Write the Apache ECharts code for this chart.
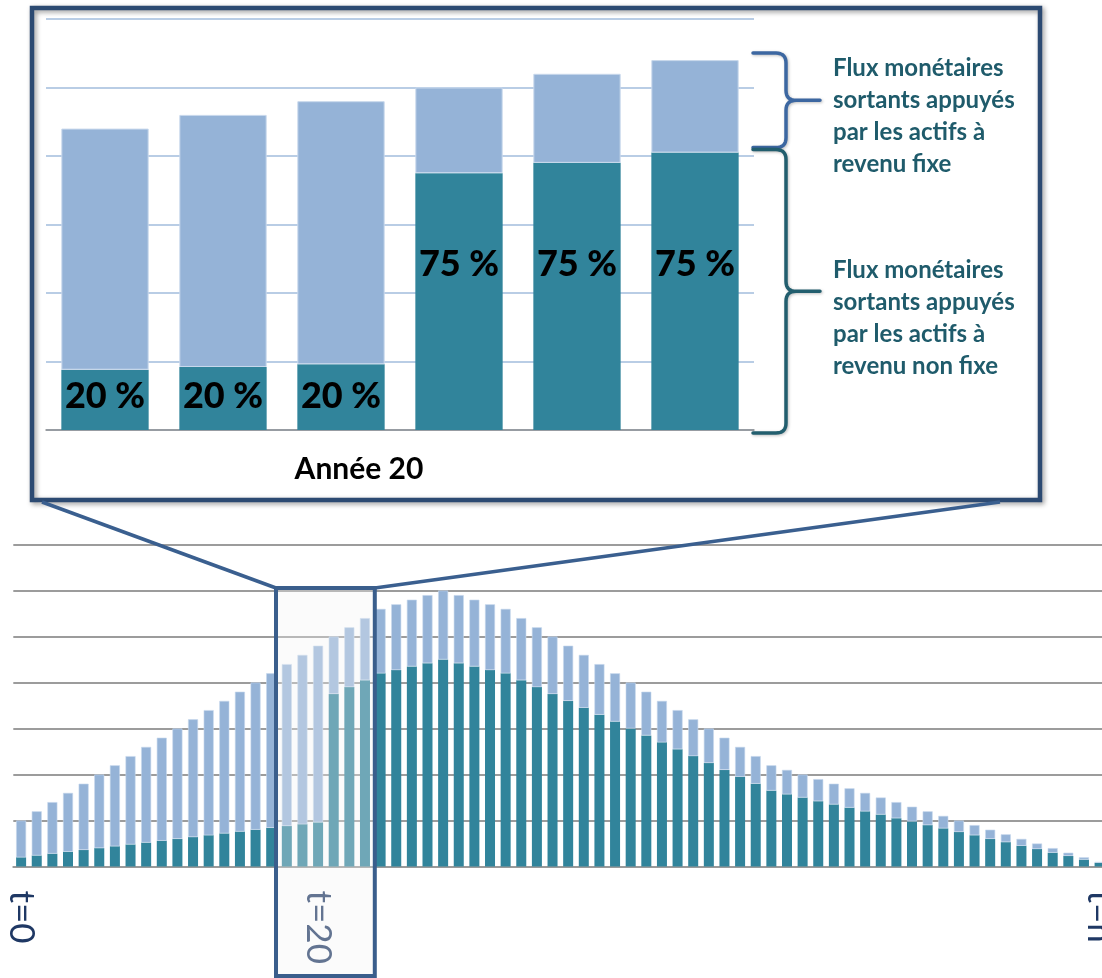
<!DOCTYPE html>
<html>
<head>
<meta charset="utf-8">
<script src="https://cdn.jsdelivr.net/npm/echarts@6/dist/echarts.min.js"></script>
<style>
  html, body { margin: 0; padding: 0; background: #ffffff; }
  #chart { width: 1102px; height: 978px; }
</style>
</head>
<body>
<div id="chart"></div>
<script>
// Total outgoing cash flows per period, t=0 ... t=n
const totals = [10, 12, 14, 16, 18, 20, 22, 24, 26, 28, 30, 32, 34, 36, 38, 40, 42, 44, 46, 48,
  50, 52, 54, 56, 57, 58, 59, 60, 59, 58, 57, 56, 54, 52, 50, 48, 46, 44, 42, 40,
  38, 36, 34, 32, 30, 28, 26, 24, 22, 21, 20, 19, 18, 17, 16, 15, 14, 13, 12, 11,
  10, 9, 8, 7, 6, 5, 4, 3, 2, 1];

// Part of each period's outflow backed by non-fixed-income assets
const nonFixed = [2.0, 2.4, 2.8, 3.2, 3.6, 4.0, 4.4, 4.8, 5.2, 5.6, 6.0, 6.4, 6.8, 7.2, 7.6, 8.0, 8.4, 8.8, 9.2, 9.6,
  37.5, 39.0, 40.5, 42.0, 42.7, 43.5, 44.2, 45.0, 44.2, 43.5, 42.7, 42.0, 40.5, 39.0, 37.5, 36.0, 34.5, 33.0, 31.5, 30.0,
  28.5, 27.0, 25.5, 24.0, 22.5, 21.0, 19.5, 18.0, 16.5, 15.7, 15.0, 14.2, 13.5, 12.8, 12.0, 11.3, 10.5, 9.8, 9.0, 8.3,
  7.5, 6.8, 6.0, 5.3, 4.5, 3.8, 3.0, 2.3, 1.5, 0.8];

// Period tick labels
const labelledPeriods = [0, 19, 69];
const periodTexts = ['t=0', 't=20', 't=n'];

// Detail panel: the six periods around year 20
const zoomFirst = 17;
const yearShares = [20, 20, 20, 75, 75, 75];
const yearLabels = ['', '', 'Année 20', '', '', ''];

const fixedText = 'Flux monétaires\nsortants appuyés\npar les actifs à\nrevenu fixe';
const nonFixedText = 'Flux monétaires\nsortants appuyés\npar les actifs à\nrevenu non fixe';

const LIGHT = '#95B3D7';
const DARK = '#31849B';

const periodNames = totals.map((_, i) => {
  const k = labelledPeriods.indexOf(i);
  return k >= 0 ? periodTexts[k] : '';
});
const fixedPart = totals.map((t, i) => +(t - nonFixed[i]).toFixed(2));

const yearTotals = totals.slice(zoomFirst, zoomFirst + yearShares.length);
const yearNonFixed = yearTotals.map((t, i) => t * yearShares[i] / 100);
const yearFixed = yearTotals.map((t, i) => t - yearNonFixed[i]);

const chart = echarts.init(document.getElementById('chart'), null, { renderer: 'canvas' });

chart.setOption({
  animation: false,
  backgroundColor: '#ffffff',
  grid: [
    { left: 46, top: 19, width: 708, height: 411, containLabel: false, outerBoundsMode: 'none' },
    { left: 13.3, top: 544.5, width: 1094.1, height: 322, containLabel: false, outerBoundsMode: 'none' }
  ],
  xAxis: [
    {
      gridIndex: 0, type: 'category', data: yearLabels,
      axisLine: { lineStyle: { color: '#8c8c8c', width: 1.5 } },
      axisTick: { interval: 0, length: 12, lineStyle: { color: '#8c8c8c', width: 1.5 } },
      axisLabel: {
        interval: 0, margin: 24, color: '#000000',
        fontFamily: 'Lato, "Open Sans", sans-serif', fontWeight: 'bold', fontSize: 30,
        padding: [0, 0, 0, 36]
      },
      splitLine: { show: false }
    },
    {
      gridIndex: 1, type: 'category', data: periodNames,
      axisLine: { lineStyle: { color: '#9a9a9a', width: 2 } },
      axisTick: { interval: 0, length: 11, lineStyle: { color: '#8c8c8c', width: 1.5 } },
      axisLabel: {
        interval: 0, rotate: -90, margin: 24, color: '#1F3864',
        fontFamily: 'Lato, "Open Sans", sans-serif', fontWeight: 'normal', fontSize: 35
      },
      splitLine: { show: false }
    }
  ],
  yAxis: [
    {
      gridIndex: 0, type: 'value', min: 0, max: 60, interval: 10,
      axisLine: { show: false }, axisTick: { show: false }, axisLabel: { show: false },
      splitLine: { lineStyle: { color: '#B9CDE5', width: 2 } }
    },
    {
      gridIndex: 1, type: 'value', min: 0, max: 70, interval: 10,
      axisLine: { show: false }, axisTick: { show: false }, axisLabel: { show: false },
      splitLine: { lineStyle: { color: '#9c9c9c', width: 2 } }
    }
  ],
  series: [
    {
      name: 'nonFixedYear', type: 'bar', xAxisIndex: 0, yAxisIndex: 0, stack: 'year',
      barCategoryGap: '26%',
      itemStyle: { color: DARK },
      data: yearNonFixed.map((v, i) => ({
        value: v,
        label: { distance: yearShares[i] >= 50 ? 148 : 16 }
      })),
      label: {
        show: true, position: 'insideBottom', color: '#000000',
        fontFamily: 'Lato, "Open Sans", sans-serif', fontWeight: 900, fontSize: 36,
        formatter: p => yearShares[p.dataIndex] + ' %'
      }
    },
    {
      name: 'fixedYear', type: 'bar', xAxisIndex: 0, yAxisIndex: 0, stack: 'year',
      barCategoryGap: '26%',
      itemStyle: { color: LIGHT, borderColor: '#c8d8ec', borderWidth: 1 },
      data: yearFixed
    },
    {
      name: 'nonFixed', type: 'bar', xAxisIndex: 1, yAxisIndex: 1, stack: 'all',
      barCategoryGap: '36%',
      itemStyle: { color: DARK },
      data: nonFixed
    },
    {
      name: 'fixed', type: 'bar', xAxisIndex: 1, yAxisIndex: 1, stack: 'all',
      barCategoryGap: '36%',
      itemStyle: { color: LIGHT, borderColor: '#c8d8ec', borderWidth: 0.6 },
      data: fixedPart
    }
  ]
});

// Annotation layer: detail frame, zoom window, connectors and braces
const cx = i => chart.convertToPixel({ xAxisIndex: 1 }, i);
const band = cx(1) - cx(0);
const zoomLeft = cx(zoomFirst) - band / 2 - 3;
const zoomRight = cx(zoomFirst + yearShares.length - 1) + band / 2 + 2;
const zoomTop = 588;
const zoomBottom = 976;

const last = yearShares.length - 1;
const yTop = chart.convertToPixel({ yAxisIndex: 0 }, yearTotals[last]);
const yMid = chart.convertToPixel({ yAxisIndex: 0 }, yearNonFixed[last]);
const yBase = chart.convertToPixel({ yAxisIndex: 0 }, 0);
const xEnd = chart.convertToPixel({ xAxisIndex: 0 }, last) + (chart.convertToPixel({ xAxisIndex: 0 }, 1) - chart.convertToPixel({ xAxisIndex: 0 }, 0)) / 2;

function quad(out, p0, c, p1, n) {
  for (let i = 1; i <= n; i++) {
    const t = i / n, u = 1 - t;
    out.push([u * u * p0[0] + 2 * u * t * c[0] + t * t * p1[0], u * u * p0[1] + 2 * u * t * c[1] + t * t * p1[1]]);
  }
}
function bracePoints(x0, xv, xt, y0, y1, r) {
  const ym = (y0 + y1) / 2;
  const pts = [[x0, y0], [xv - r, y0]];
  quad(pts, [xv - r, y0], [xv, y0], [xv, y0 + r], 8);
  pts.push([xv, ym - r]);
  quad(pts, [xv, ym - r], [xv, ym], [xv + r, ym], 8);
  pts.push([xt, ym], [xv + r, ym]);
  quad(pts, [xv + r, ym], [xv, ym], [xv, ym + r], 8);
  pts.push([xv, y1 - r]);
  quad(pts, [xv, y1 - r], [xv, y1], [xv - r, y1], 8);
  pts.push([x0, y1]);
  return pts;
}

const braceX0 = xEnd - 1, braceXv = xEnd + 32, braceXt = xEnd + 66;

chart.setOption({
  graphic: [
    {
      type: 'rect', z: 10, silent: true,
      shape: { x: 32, y: 8, width: 1008, height: 492 },
      style: { fill: null, stroke: '#2C4A72', lineWidth: 4.5,
        shadowBlur: 5, shadowColor: 'rgba(0,0,0,0.4)', shadowOffsetX: 2, shadowOffsetY: 2 }
    },
    {
      type: 'line', z: 10, silent: true,
      shape: { x1: 42, y1: 502, x2: zoomLeft, y2: zoomTop },
      style: { stroke: '#3A5F8F', lineWidth: 3.5 }
    },
    {
      type: 'line', z: 10, silent: true,
      shape: { x1: 1000, y1: 502, x2: zoomRight, y2: zoomTop },
      style: { stroke: '#3A5F8F', lineWidth: 3.5 }
    },
    {
      type: 'rect', z: 11, silent: true,
      shape: { x: zoomLeft, y: zoomTop, width: zoomRight - zoomLeft, height: zoomBottom - zoomTop },
      style: { fill: 'rgba(242,242,242,0.32)', stroke: '#3A5E8C', lineWidth: 4 }
    },
    {
      type: 'polyline', z: 10, silent: true,
      shape: { points: bracePoints(braceX0, braceXv, braceXt, yTop - 7, yMid - 5, 10) },
      style: { stroke: '#3C67A1', lineWidth: 3.5, fill: null, lineJoin: 'round', lineCap: 'round',
        shadowBlur: 3, shadowColor: 'rgba(0,0,0,0.25)', shadowOffsetX: 1, shadowOffsetY: 1 }
    },
    {
      type: 'polyline', z: 10, silent: true,
      shape: { points: bracePoints(braceX0, braceXv, braceXt, yMid - 3, yBase + 3, 10) },
      style: { stroke: '#225E6E', lineWidth: 3.5, fill: null, lineJoin: 'round', lineCap: 'round',
        shadowBlur: 3, shadowColor: 'rgba(0,0,0,0.25)', shadowOffsetX: 1, shadowOffsetY: 1 }
    },
    {
      type: 'text', z: 10, silent: true, x: 833, y: 52,
      style: { text: fixedText, fill: '#1F5B6B', font: 'bold 24px Lato, "Open Sans", sans-serif',
        lineHeight: 32, verticalAlign: 'top', align: 'left' }
    },
    {
      type: 'text', z: 10, silent: true, x: 833, y: 254,
      style: { text: nonFixedText, fill: '#1F5B6B', font: 'bold 24px Lato, "Open Sans", sans-serif',
        lineHeight: 32, verticalAlign: 'top', align: 'left' }
    }
  ]
});
</script>
</body>
</html>
